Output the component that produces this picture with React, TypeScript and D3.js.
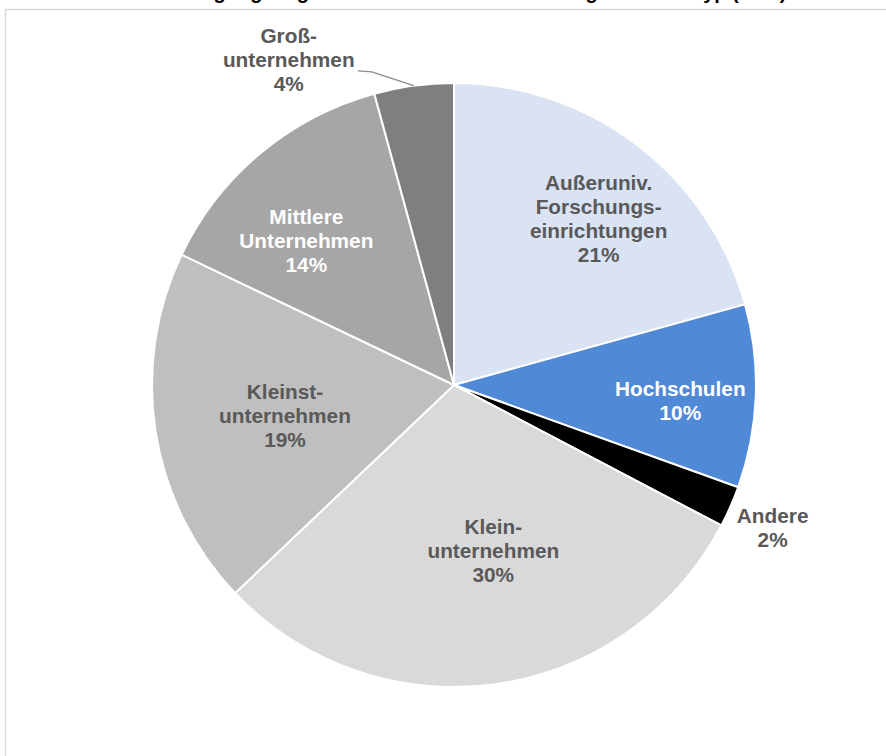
import React from "react";
import * as d3 from "d3";

// ---- data ----
const categories = [
  "Außeruniv. Forschungseinrichtungen",
  "Hochschulen",
  "Andere",
  "Kleinunternehmen",
  "Kleinstunternehmen",
  "Mittlere Unternehmen",
  "Großunternehmen",
];
const shares = [20.7, 9.8, 2.2, 30.2, 19.2, 13.65, 4.25];
const percentLabels = ["21%", "10%", "2%", "30%", "19%", "14%", "4%"];
const labelLines = [
  ["Außeruniv.", "Forschungs-", "einrichtungen"],
  ["Hochschulen"],
  ["Andere"],
  ["Klein-", "unternehmen"],
  ["Kleinst-", "unternehmen"],
  ["Mittlere", "Unternehmen"],
  ["Groß-", "unternehmen"],
];
const titleText = "Beteiligung an geförderten Vorhaben nach Organisationstyp (in %)";

// ---- styles ----
const colors = ["#dae3f3", "#5089d6", "#000000", "#d9d9d9", "#bfbfbf", "#a6a6a6", "#7f7f7f"];
const textColors = ["#595959", "#ffffff", "#595959", "#595959", "#595959", "#ffffff", "#595959"];
const labelRadius = [0.72, 0.75, 1.16, 0.56, 0.57, 0.68, 1.2];
const labelNudge: [number, number][] = [
  [13, 7],
  [0, 7],
  [-2, 2],
  [16, -2],
  [1, 4],
  [-16, 14],
  [-117, 34],
];

const W = 886;
const H = 756;
const CX = 454;
const CY = 385;
const R = 302;
const FONT = "'Liberation Sans', Arial, sans-serif";
const LINE = 24;
const FS = 20.8;

export default function App() {
  const pie = d3.pie<number>().sort(null).value((d) => d);
  const arcs = pie(shares);
  const arcGen = d3.arc<d3.PieArcDatum<number>>().innerRadius(0).outerRadius(R);

  const labels = arcs.map((a, i) => {
    const lr = R * labelRadius[i];
    const [x, y] = d3
      .arc<d3.PieArcDatum<number>>()
      .innerRadius(lr)
      .outerRadius(lr)
      .centroid(a);
    return { x: CX + x + labelNudge[i][0], y: CY + y + labelNudge[i][1] };
  });

  // leader line for the last (outside) label
  const gi = 6;
  const gMid = (arcs[gi].startAngle + arcs[gi].endAngle) / 2;
  const edge: [number, number] = [R * Math.sin(gMid), -R * Math.cos(gMid)];
  const gl = labels[gi];
  const leader: [number, number][] = [
    [gl.x - CX + 69, gl.y - CY + 11],
    [gl.x - CX + 83, gl.y - CY + 12],
    edge,
  ];

  return (
    <svg
      width={W}
      height={H}
      style={{ position: "absolute", left: 0, top: 0, display: "block", background: "#fff" }}
    >
      <text
        x={470}
        y={-1}
        textAnchor="middle"
        fontFamily={FONT}
        fontWeight="bold"
        fontSize={20}
        fill="#000"
      >
        {titleText}
      </text>
      <rect x={5.5} y={9.5} width={W + 20} height={H + 20} fill="#fff" stroke="#d9d9d9" strokeWidth={1.5} />
      <g transform={`translate(${CX},${CY})`}>
        {arcs.map((a, i) => (
          <path key={categories[i]} d={arcGen(a) || ""} fill={colors[i]} stroke="#fff" strokeWidth={2} strokeLinejoin="round" />
        ))}
        <path d={d3.line()(leader) || ""} fill="none" stroke="#8c8c8c" strokeWidth={1.3} />
      </g>
      {labels.map((p, i) => {
        const lines = [...labelLines[i], percentLabels[i]];
        const y0 = p.y - ((lines.length - 1) * LINE) / 2 + 7;
        return (
          <text
            key={categories[i]}
            textAnchor="middle"
            fontFamily={FONT}
            fontWeight="bold"
            fontSize={FS}
            fill={textColors[i]}
          >
            {lines.map((l, j) => (
              <tspan key={j} x={p.x} y={y0 + j * LINE}>
                {l}
              </tspan>
            ))}
          </text>
        );
      })}
    </svg>
  );
}
